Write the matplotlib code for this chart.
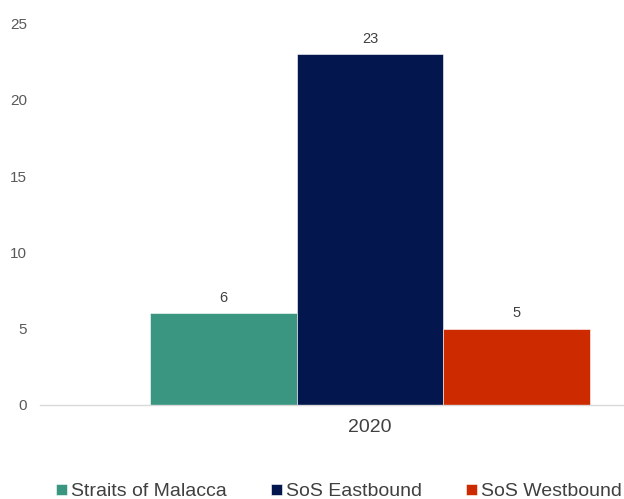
import matplotlib
matplotlib.use("Agg")
import matplotlib.pyplot as plt
import numpy as np

# Data
categories = ["2020"]
series_names = ["Straits of Malacca", "SoS Eastbound", "SoS Westbound"]
series_values = [6, 23, 5]
series_colors = ["#3A9681", "#03164E", "#CD2A00"]

plt.rcParams["font.family"] = ["Liberation Sans", "DejaVu Sans"]

fig = plt.figure(figsize=(6.24, 4.99), dpi=100)
ax = fig.add_axes([40 / 624, 94 / 499, 584 / 624, 381.5 / 499])

width = 1.0
offsets = [-1, 0, 1]
x0 = 0
for name, val, col, off in zip(series_names, series_values, series_colors, offsets):
    bars = ax.bar(x0 + off * width, val, width=width, color=col, label=name,
                  edgecolor="white", linewidth=0.4)
    ax.bar_label(bars, labels=[str(val)], padding=6, fontsize=10.5, color="#404040")

ax.set_xlim(-2.25, 1.731)
ax.set_ylim(0, 25)
ax.set_yticks(np.arange(0, 26, 5))
ax.set_xticks([x0])
ax.set_xticklabels(categories)

for side in ["top", "right", "left"]:
    ax.spines[side].set_visible(False)
ax.spines["bottom"].set_color("#D9D9D9")
ax.spines["bottom"].set_linewidth(1.0)

ax.tick_params(axis="y", length=0, pad=9.5, labelsize=11, labelcolor="#595959")
ax.tick_params(axis="x", length=0, pad=10, labelsize=14, labelcolor="#404040")

fig.legend(loc="center left", bbox_to_anchor=(56 / 624, 7 / 499), ncol=3,
           frameon=False, fontsize=14, handlelength=0.55, handleheight=0.55,
           handletextpad=0.2, columnspacing=2.3, borderpad=0, borderaxespad=0,
           labelcolor="#404040")

fig.savefig("out.png", dpi=100)
